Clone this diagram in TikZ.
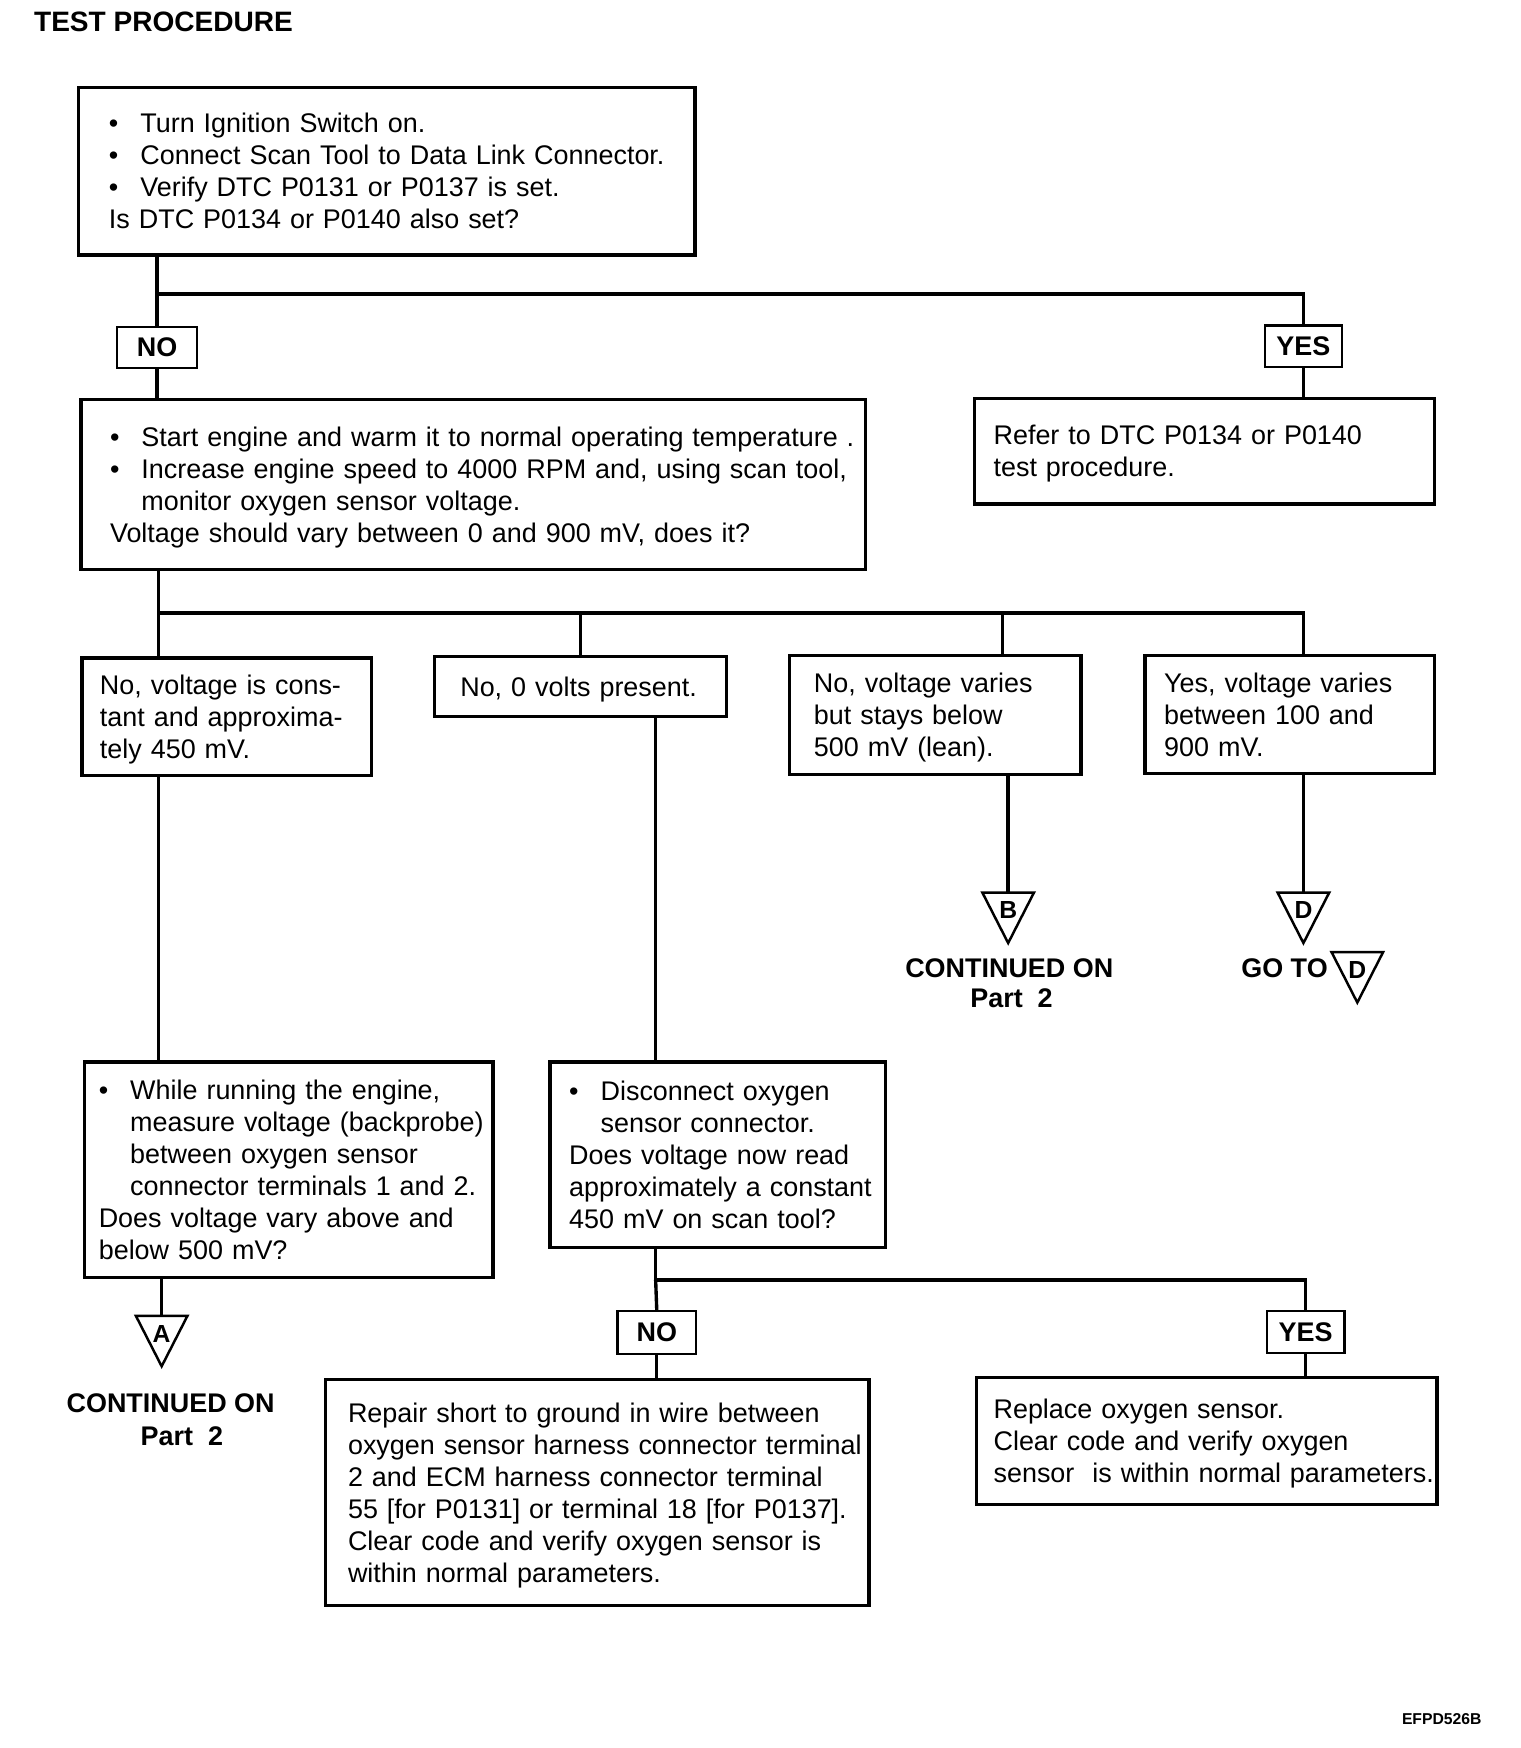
\documentclass[tikz,border=0pt]{standalone}
\usepackage{fontspec}
\setmainfont{Liberation Sans}
\usetikzlibrary{positioning}
\tikzstyle{tbox}=[draw, line width=1.5pt, inner ysep=0pt, align=left,
		font=\fontsize{12}{14.25}\selectfont]
\tikzstyle{yn}=[draw, line width=1pt, inner sep=0pt, font=\bfseries\fontsize{12}{14}\selectfont]
\tikzstyle{conn}=[line width=1.5pt]
\tikzstyle{tri}=[line width=1.1pt, line join=miter]
\tikzstyle{trilbl}=[inner sep=0pt, font=\bfseries\fontsize{11}{13}\selectfont]
\tikzstyle{cont}=[inner sep=0pt, font=\bfseries\fontsize{12}{14}\selectfont]
\newcommand{\boxlines}[1]{\begin{tabular}{@{}l@{}}\rule{0pt}{12.9pt}\ignorespaces#1\end{tabular}}
\newcommand{\bul}{\makebox[14pt][l]{\textbullet}}
\newcommand{\ind}{\hspace*{14pt}}
% off-page connector: name, x, y of top edge, letter
\newcommand{\offpage}[4]{%
	\coordinate (#1) at (#2,#3);
	\draw[tri] (#2-23,#3) -- (#2+23,#3) -- (#2,#3+45) -- cycle;
	\node[trilbl] (#1l) at (#2,#3+16) {#4};}

\begin{document}
\begin{tikzpicture}[x=0.5pt, y=-0.5pt]
	\useasboundingbox (0,0) rectangle (1354,1557);
	\node[anchor=base west, inner sep=0pt, font=\bfseries\fontsize{12.5}{15}\selectfont] (title) at (30,28.5) {TEST PROCEDURE};

	% boxes
	\node[tbox, text width=247.5pt, inner xsep=13.5pt, minimum height=74.5pt] (b1) at (344.5,152.5) {\boxlines{
		\bul Turn Ignition Switch on.\\
		\bul Connect Scan Tool to Data Link Connector.\\
		\bul Verify DTC P0131 or P0137 is set.\\
		Is DTC P0134 or P0140 also set?}};
	\node[tbox, text width=323.5pt, inner xsep=13pt, minimum height=75.5pt] (b2) at (421.5,431.5) {\boxlines{
		\bul Start engine and warm it to normal operating temperature .\\
		\bul Increase engine speed to 4000 RPM and, using scan tool,\\
		\ind monitor oxygen sensor voltage.\\
		Voltage should vary between 0 and 900 mV, does it?}};
	\node[tbox, text width=188pt, inner xsep=8.5pt, minimum height=47pt] (b3) at (1073,402) {\boxlines{
		Refer to DTC P0134 or P0140\\
		test procedure.}};
	\node[tbox, text width=113pt, inner xsep=8pt, minimum height=52.5pt] (b4) at (202,638.5) {\boxlines{
		No, voltage is cons-\\
		tant and approxima-\\
		tely 450 mV.}};
	\node[tbox, text width=107pt, inner xsep=11.5pt, minimum height=26.5pt] (b5) at (517,611.5) {\boxlines{
		No, 0 volts present.}};
	\node[tbox, text width=108pt, inner xsep=11pt, minimum height=53pt] (b6) at (833,637) {\boxlines{
		No, voltage varies\\
		but stays below\\
		500 mV (lean).}};
	\node[tbox, text width=112pt, inner xsep=8.5pt, minimum height=52.5pt] (b7) at (1149,636.5) {\boxlines{
		Yes, voltage varies\\
		between 100 and\\
		900 mV.}};
	\node[tbox, text width=169pt, inner xsep=6.5pt, minimum height=96pt] (b8) at (257,1042) {\boxlines{
		\bul While running the engine,\\
		\ind measure voltage (backprobe)\\
		\ind between oxygen sensor\\
		\ind connector terminals 1 and 2.\\
		Does voltage vary above and\\
		below 500 mV?}};
	\node[tbox, text width=132.5pt, inner xsep=8.5pt, minimum height=82.5pt] (b9) at (639.5,1028.5) {\boxlines{
		\bul Disconnect oxygen\\
		\ind sensor connector.\\
		Does voltage now read\\
		approximately a constant\\
		450 mV on scan tool?}};
	\node[tbox, text width=222pt, inner xsep=10pt, minimum height=100.5pt] (b10) at (532,1329.5) {\boxlines{
		Repair short to ground in wire between\\
		oxygen sensor harness connector terminal\\
		2 and ECM harness connector terminal\\
		55 [for P0131] or terminal 18 [for P0137].\\
		Clear code and verify oxygen sensor is\\
		within normal parameters.}};
	\node[tbox, text width=190pt, inner xsep=7.5pt, minimum height=56.5pt] (b11) at (1075,1283.5) {\boxlines{
		Replace oxygen sensor.\\
		Clear code and verify oxygen\\
		sensor\ \ is within normal parameters.}};

	% yes / no labels
	\node[yn, minimum width=35.5pt, minimum height=18.5pt] (no1) at (140,309.5) {NO};
	\node[yn, minimum width=34.5pt, minimum height=18.5pt] (yes1) at (1161,308.5) {YES};
	\node[yn, minimum width=35pt, minimum height=19pt] (no2) at (585,1187) {NO};
	\node[yn, minimum width=34.5pt, minimum height=18.5pt] (yes2) at (1163,1186.5) {YES};

	% off-page connectors
	\offpage{tB}{898}{795}{B}
	\offpage{tD}{1161}{795}{D}
	\offpage{tA}{144}{1172}{A}
	\offpage{tD2}{1209}{848}{D}
	\node[cont] (cB) at (899,862) {CONTINUED ON};
	\node[cont] (pB) at (901,889) {Part\ \ 2};
	\node[cont] (cA) at (152,1250) {CONTINUED ON};
	\node[cont] (pA) at (162,1279) {Part\ \ 2};
	\node[cont, anchor=east] (goto) at (1183,862) {GO TO};
	\node[anchor=base east, inner sep=0pt, font=\bfseries\fontsize{7}{8}\selectfont] (code) at (1320,1536) {EFPD526B};

	% connectors
	\coordinate (j1) at (140,262);
	\coordinate (j2) at (141,546);
	\coordinate (d6) at (893,546);
	\coordinate (j3) at (584,1140);
	\draw[conn] (b1.south -| j1) -- (no1.north);
	\draw[conn] (j1) -| (yes1.north);
	\draw[conn] (no1.south) -- (no1 |- b2.north);
	\draw[conn] (yes1.south) -- (yes1 |- b3.north);
	\draw[conn] (b2.south -| j2) -- (j2) -- (j2 -| yes1) -- (yes1 |- b7.north);
	\draw[conn] (j2) -- (j2 |- b4.north);
	\draw[conn] (j2 -| b5.north) -- (b5.north);
	\draw[conn] (d6) -- (d6 |- b6.north);
	\draw[conn] (b4.south -| j2) -- (j2 |- b8.north);
	\draw[conn] (b5.south -| j3) -- (j3 |- b9.north);
	\draw[conn] (b6.south -| tB) -- (tB);
	\draw[conn] (b7.south -| tD) -- (tD);
	\draw[conn] (b8.south -| tA) -- (tA);
	\draw[conn] (b9.south -| j3) -- (j3) -| (yes2.north);
	\draw[conn] (j3) -- (no2.north);
	\draw[conn] (no2.south) -- (no2 |- b10.north);
	\draw[conn] (yes2.south) -- (yes2 |- b11.north);
\end{tikzpicture}
\end{document}
